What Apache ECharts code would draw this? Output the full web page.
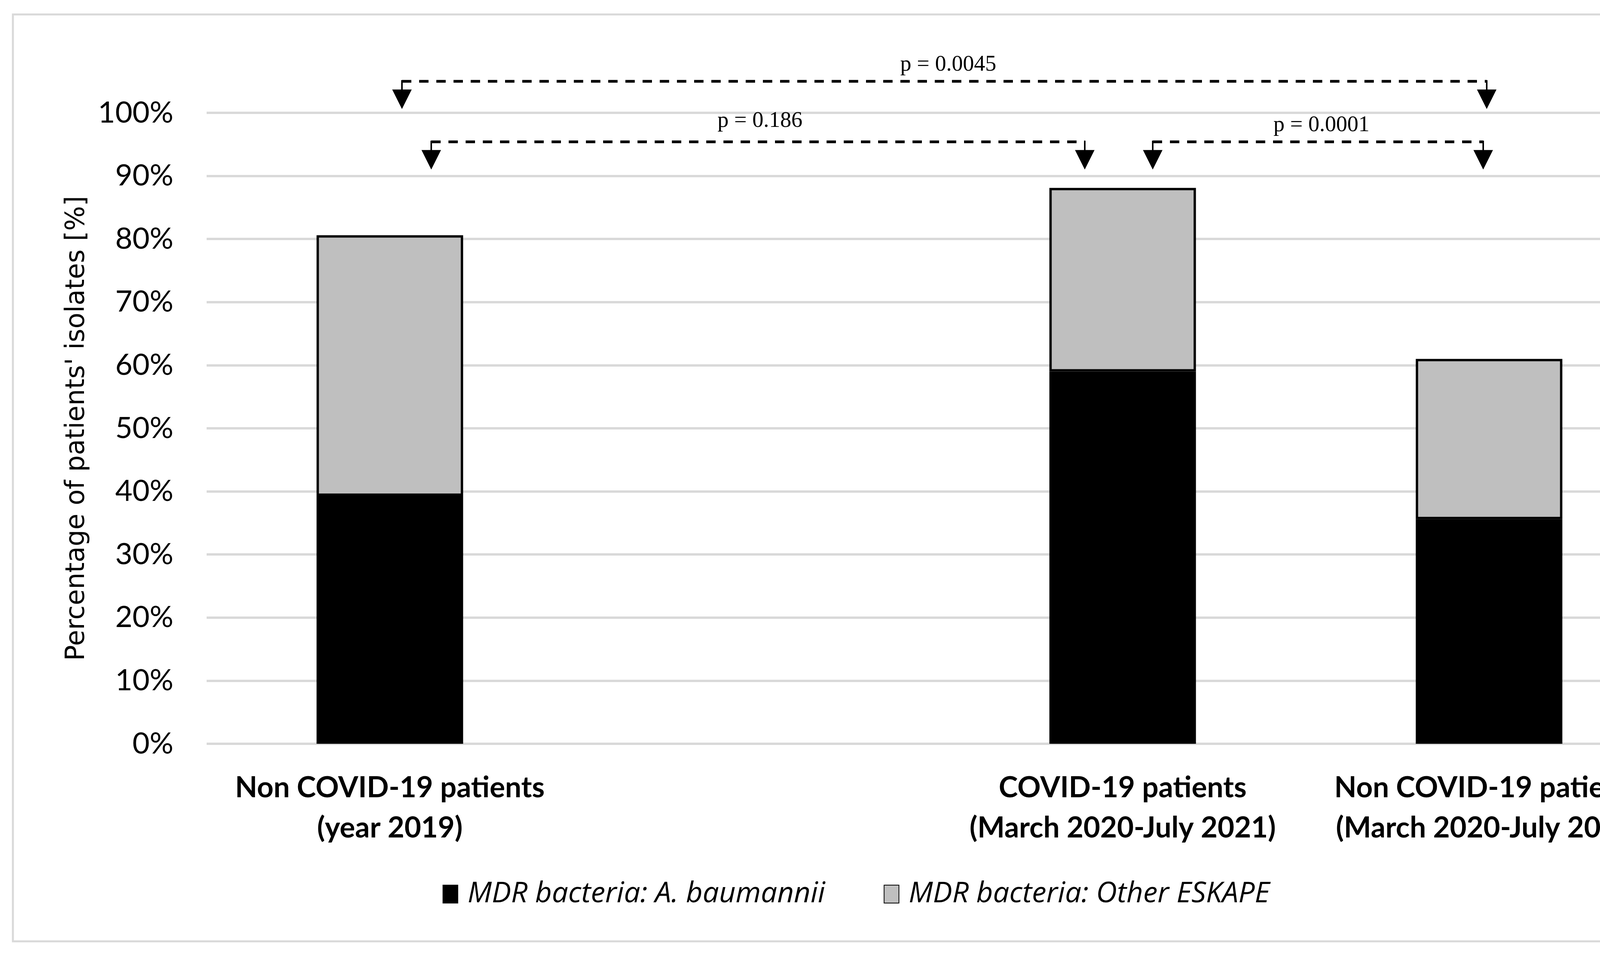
<!DOCTYPE html>
<html>
<head>
<meta charset="utf-8">
<script src="https://cdn.jsdelivr.net/npm/echarts@6/dist/echarts.min.js"></script>
<style>html,body{margin:0;padding:0;background:#fff;}#chart{width:4394px;height:2446px;}</style>
</head>
<body>
<div id="chart"></div>
<script>
// ---- data ----
const categories = [
  'Non COVID-19 patients\n(year 2019)',
  '',
  'COVID-19 patients\n(March 2020-July 2021)',
  'Non COVID-19 patients\n(March 2020-July 2021)'
];
const seriesNames = ['MDR bacteria: A. baumannii', 'MDR bacteria: Other ESKAPE'];
const baumannii = [39.3, null, 59.0, 35.6];
const otherEskape = [41.3, null, 29.1, 25.4];
// comparisons: [from category index, to category index]
const comparisons = [[0, 3], [0, 2], [2, 3]];
const pValues = ['p = 0.0045', 'p = 0.186', 'p = 0.0001'];
const bracketLevel = [105.0, 95.4, 95.4];   // y value of the dashed line (%)

// ---- style (pixels) ----
const bracketStyle = {
  leftOff: [31, 106, 77],
  rightOff: [-6, -97, -15],
  drop: 71, headLen: 50, headHalf: 25,
  labelRise: [42, 53, 42],
  labelShift: [10, 5, 9]
};

const chart = echarts.init(document.getElementById('chart'), null, {renderer: 'canvas'});
const bracketData = comparisons.map((c, i) => [c[0], c[1], bracketLevel[i]]);

chart.setOption({
  backgroundColor: '#ffffff',
  animation: false,
  graphic: [{
    type: 'rect', silent: true,
    shape: {x: 33, y: 37, width: 4331, height: 2374},
    style: {fill: 'none', stroke: '#d9d9d9', lineWidth: 5}
  }],
  grid: {left: 529, right: 113, top: 289, bottom: 541, containLabel: false},
  legend: {
    data: seriesNames,
    left: 1128, top: 2248,
    itemWidth: 38, itemHeight: 46, itemGap: 150,
    icon: 'rect',
    textStyle: {fontFamily: 'Open Sans', fontStyle: 'italic', fontSize: 74, color: '#000', padding: [0, 0, 0, 20]}
  },
  xAxis: [{
    type: 'category',
    data: categories,
    axisLine: {show: false},
    axisTick: {show: false},
    axisLabel: {
      interval: 0, margin: 62,
      fontFamily: 'Lato', fontWeight: 'bold', fontSize: 74, lineHeight: 103, color: '#000'
    }
  }, {
    type: 'value', min: -0.5, max: 3.5, show: false
  }],
  yAxis: {
    type: 'value', min: 0, max: 100, interval: 10,
    name: "Percentage of patients' isolates [%]",
    nameLocation: 'middle', nameGap: 298,
    nameTextStyle: {fontFamily: 'DejaVu Sans', fontSize: 67, color: '#000'},
    axisLine: {show: false},
    axisTick: {show: false},
    axisLabel: {formatter: '{value}%', margin: 85, fontFamily: 'Lato', fontSize: 76, color: '#000'},
    splitLine: {lineStyle: {color: '#d9d9d9', width: 6}}
  },
  series: [{
    name: seriesNames[0], type: 'bar', stack: 'total', barWidth: '40%',
    data: baumannii,
    itemStyle: {color: '#000000', borderColor: '#000000', borderWidth: 6}
  }, {
    name: seriesNames[1], type: 'bar', stack: 'total', barWidth: '40%',
    data: otherEskape,
    itemStyle: {color: '#bfbfbf', borderColor: '#000000', borderWidth: 6}
  }, {
    name: 'brackets', type: 'custom', xAxisIndex: 1, yAxisIndex: 0,
    clip: false, silent: true,
    data: bracketData,
    renderItem: function (params, api) {
      const i = params.dataIndex;
      const a = api.coord([api.value(0), api.value(2)]);
      const b = api.coord([api.value(1), api.value(2)]);
      const x1 = a[0] + bracketStyle.leftOff[i];
      const x2 = b[0] + bracketStyle.rightOff[i];
      const y = a[1];
      const tip = y + bracketStyle.drop;
      const hs = tip - bracketStyle.headLen;
      const h = bracketStyle.headHalf;
      return {
        type: 'group',
        children: [
          {type: 'line', shape: {x1: x1, y1: y, x2: x2, y2: y},
            style: {stroke: '#000', lineWidth: 7, lineDash: [24, 20]}},
          {type: 'line', shape: {x1: x1, y1: y - 3, x2: x1, y2: hs + 2}, style: {stroke: '#000', lineWidth: 4}},
          {type: 'line', shape: {x1: x2, y1: y - 3, x2: x2, y2: hs + 2}, style: {stroke: '#000', lineWidth: 4}},
          {type: 'polygon', shape: {points: [[x1 - h, hs], [x1 + h, hs], [x1, tip]]}, style: {fill: '#000'}},
          {type: 'polygon', shape: {points: [[x2 - h, hs], [x2 + h, hs], [x2, tip]]}, style: {fill: '#000'}},
          {type: 'text', x: (x1 + x2) / 2 + bracketStyle.labelShift[i], y: y - bracketStyle.labelRise[i],
            style: {text: pValues[i], font: '57px "Liberation Serif"', fill: '#000', align: 'center', verticalAlign: 'middle'}}
        ]
      };
    }
  }]
});
</script>
</body>
</html>
